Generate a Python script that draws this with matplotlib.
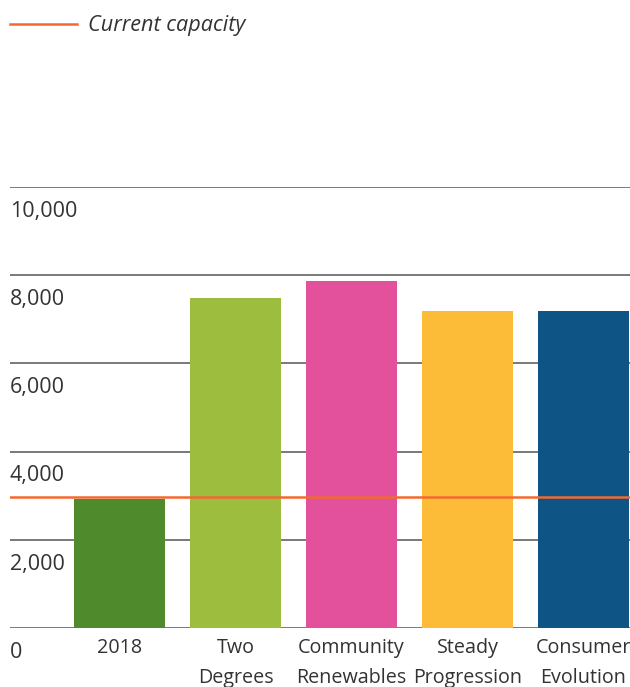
import matplotlib
matplotlib.use("Agg")
import matplotlib.pyplot as plt
import matplotlib.transforms as mtransforms

plt.rcParams["font.family"] = ["Open Sans", "DejaVu Sans"]

# Data
categories = ["2018", "Two\nDegrees", "Community\nRenewables", "Steady\nProgression", "Consumer\nEvolution"]
values = [2930, 7480, 7870, 7190, 7190]
colors = ["#4f8a2d", "#9cbd3e", "#e3519d", "#fdbc38", "#0e5585"]
current_capacity = 2970
y_ticks = [0, 2000, 4000, 6000, 8000, 10000]
y_tick_labels = ["0", "2,000", "4,000", "6,000", "8,000", "10,000"]

TEXT = "#333333"
GRID = "#555555"
ORANGE = "#f26a30"

fig = plt.figure(figsize=(6.3, 6.87), dpi=100)
ax = fig.add_axes([10 / 630, 59 / 687, 620 / 630, 441 / 687])

x = list(range(len(categories)))
ax.bar(x, values, width=0.785, color=colors, zorder=2)
ax.axhline(current_capacity, color=ORANGE, lw=1.8, zorder=3)

for t in y_ticks:
    ax.axhline(t, color=GRID, lw=1.1, zorder=1)

ax.set_xlim(-0.944, 4.401)
ax.set_ylim(0, 10000)
ax.axis("off")

# y labels sit just below each gridline, at the left edge
trans = mtransforms.blended_transform_factory(ax.transAxes, ax.transData)
for t, lab in zip(y_ticks, y_tick_labels):
    ax.annotate(lab, xy=(0, t), xycoords=trans, xytext=(0, -17.5),
                textcoords="offset points", ha="left", va="center",
                fontsize=15.5, color=TEXT)

# category labels under the bars (the last one runs off the right edge, as in the source)
for xi, lab in zip(x, categories):
    ax.annotate(lab, xy=(xi, 0), xycoords="data", xytext=(0, -7.5),
                textcoords="offset points", ha="center", va="top",
                fontsize=14.2, color=TEXT, linespacing=1.66, annotation_clip=False)

# legend at the top left
fig.add_artist(plt.Line2D([10 / 630, 77 / 630], [1 - 24 / 687] * 2,
                          color=ORANGE, lw=1.8, transform=fig.transFigure))
fig.text(88 / 630, 1 - 26 / 687, "Current capacity", ha="left", va="center",
         fontsize=15.6, style="italic", color=TEXT)

fig.savefig("out.png", dpi=100)
